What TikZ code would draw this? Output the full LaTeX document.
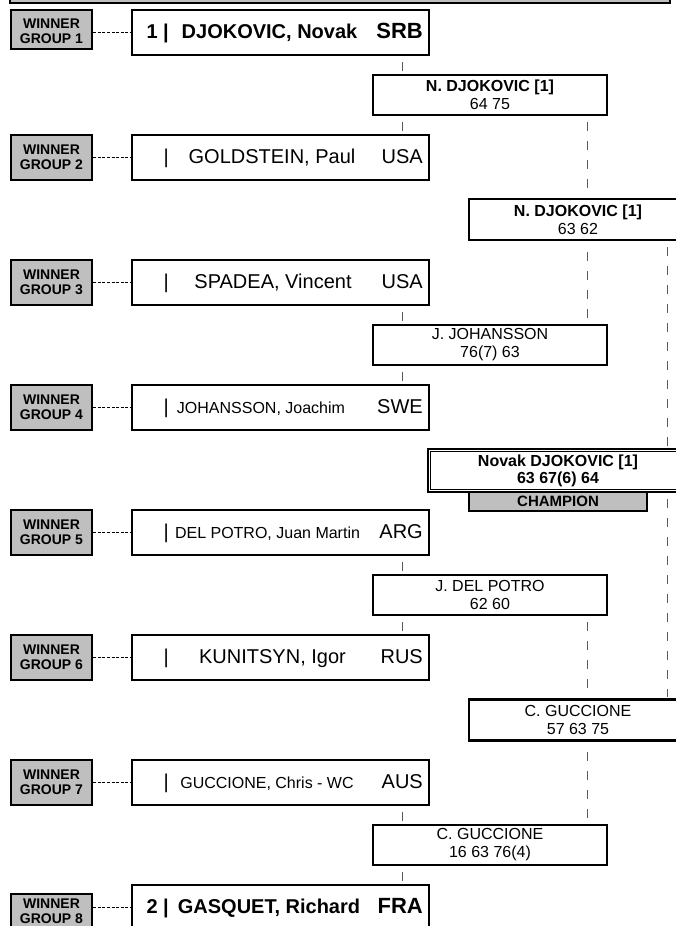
\documentclass[tikz,border=0pt]{standalone}
\usepackage{fontspec}
\setmainfont{Liberation Sans}
\usetikzlibrary{calc}
\definecolor{GroupClr}{rgb}{0.75,0.75,0.75}
\definecolor{LinkClr}{rgb}{0.35,0.35,0.35}
\newcommand\NameFont{\fontsize{20}{22}\selectfont}
\newcommand\NameBold{\fontsize{20}{22}\selectfont\bfseries}
\newcommand\NameSmall{\fontsize{16}{18}\selectfont}
\newcommand\CtryBold{\fontsize{22}{24}\selectfont\bfseries}
\newcommand\GroupFont{\fontsize{14}{15}\selectfont\bfseries}
\newcommand\ScoreFont{\fontsize{16}{18}\selectfont}
\newcommand\ChampFont{\fontsize{16}{17}\selectfont\bfseries}
\newcommand\LabelFont{\fontsize{15}{17}\selectfont\bfseries}
\begin{document}
\begin{tikzpicture}[x=1pt,y=-1pt,
  pbox/.style={draw,line width=2.2pt,minimum width=297pt,minimum height=45pt,inner sep=0pt},
  gbox/.style={draw,fill=GroupClr,line width=2.2pt,minimum width=81pt,inner sep=0pt},
  gtxt/.style={inner sep=0pt,align=center,font=\GroupFont},
  rbox/.style={draw,fill=white,line width=2.2pt,minimum height=40pt,inner sep=0pt,align=center,font=\ScoreFont},
  txt/.style={inner sep=0pt},
  link/.style={draw=LinkClr,line width=1pt,dash pattern=on 9pt off 10pt,dash phase=14pt,shorten <=1.2pt,shorten >=1.2pt},
  glink/.style={line width=1.8pt,dash pattern=on 3pt off 1.6pt}]
\useasboundingbox (0,0) rectangle (675,926);
\draw[fill=GroupClr,line width=1.6pt] (10,-10) rectangle (670,3);

\foreach \k/\wy/\wh/\ty/\nx/\nf/\cf/\sd/\nm/\ct [evaluate=\k as \y using 32.5+125*(\k-1)] in {
  1/29.5/39/31/269.5/\NameBold/\CtryBold/{\bfseries 1 |}/{DJOKOVIC, Novak}/SRB,
  2/157.5/45/157.5/272/\NameFont/\NameFont/|/{GOLDSTEIN, Paul}/USA,
  3/282.5/45/282.5/273/\NameFont/\NameFont/|/{SPADEA, Vincent}/USA,
  4/407.5/45/407.5/261/\NameSmall/\NameFont/|/{JOHANSSON, Joachim}/SWE,
  5/532.5/45/532.5/267.5/\NameSmall/\NameFont/|/{DEL POTRO, Juan Martin}/ARG,
  6/657.5/45/657.5/272.5/\NameFont/\NameFont/|/{KUNITSYN, Igor}/RUS,
  7/782.5/45/782.5/267/\NameSmall/\NameFont/|/{GUCCIONE, Chris - WC}/AUS,
  8/916.5/45/911/269/\NameBold/\CtryBold/{\bfseries 2 |}/{GASQUET, Richard}/FRA}{
  \node[gbox,minimum height=\wh pt] (w\k) at (51.5,\wy) {};
  \node[gtxt] (wt\k) at (51.5,\ty) {WINNER\\GROUP \k};
  \node[pbox] (p\k) at (280.5,\y) {};
  \draw[glink] (w\k.east |- p\k.west) -- (p\k.west);
  \node[txt,anchor=base east,font=\NameFont] (s\k) at (169,\y+6) {\sd};
  \node[txt,anchor=base,font=\nf] (n\k) at (\nx,\y+6) {\nm};
  \node[txt,anchor=base east,font=\cf] (c\k) at (423,\y+6) {\ct};
}

\node[rbox,minimum width=234pt] (r2a) at (490,95) {\textbf{N. DJOKOVIC [1]}\\64 75};
\node[rbox,minimum width=234pt] (r2b) at (490,345) {J. JOHANSSON\\76(7) 63};
\node[rbox,minimum width=234pt] (r2c) at (490,595) {J. DEL POTRO\\62 60};
\node[rbox,minimum width=234pt] (r2d) at (490,845) {C. GUCCIONE\\16 63 76(4)};
\node[rbox,minimum width=218pt,minimum height=41pt] (r3a) at (578,219.5) {\textbf{N. DJOKOVIC [1]}\\63 62};
\node[rbox,minimum width=218pt,minimum height=41pt] (r3b) at (578,720) {C. GUCCIONE\\57 63 75};
\node[rbox,minimum width=260pt,minimum height=43pt,font=\ChampFont] (ch) at (558,470.5) {Novak DJOKOVIC [1]\\63 67(6) 64};
\draw[line width=1.2pt] ([shift={(3.5,3.5)}]ch.north west) rectangle ([shift={(-3.5,-3.5)}]ch.south east);
\node[rbox,fill=GroupClr,minimum width=178pt,minimum height=19pt,font=\LabelFont] (chl) at (558,501.5) {CHAMPION};

\coordinate (xa) at (402,0);
\coordinate (xb) at (587,0);
\coordinate (xc) at (667,0);
\foreach \a/\b/\c in {1/r2a/2,3/r2b/4,5/r2c/6,7/r2d/8}{
  \draw[link] (p\a.south -| xa) -- (\b.north -| xa);
  \draw[link] (\b.south -| xa) -- (p\c.north -| xa);
}
\draw[link] (r2a.south -| xb) -- (r3a.north -| xb);
\draw[link] (r2b.north -| xb) -- (r3a.south -| xb);
\draw[link] (r2c.south -| xb) -- (r3b.north -| xb);
\draw[link] (r2d.north -| xb) -- (r3b.south -| xb);
\draw[link] (r3a.south -| xc) -- (ch.north -| xc);
\draw[link] (ch.south -| xc) -- (r3b.north -| xc);

\end{tikzpicture}
\end{document}
